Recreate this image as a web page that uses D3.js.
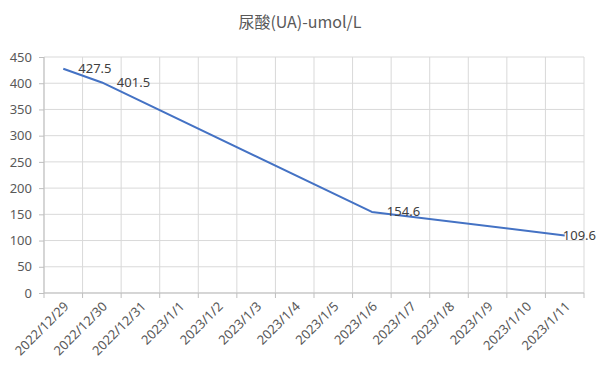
<html>
<head>
<script src="https://d3js.org/d3.v7.min.js"></script>
<style>
    body { margin: 0; background: #fff; font-family: 'Noto Sans', 'Noto Sans CJK SC', sans-serif; }
</style>
</head>
<body>
<svg id="chart" width="597" height="366"></svg>
<script>
var categories = ["2022/12/29", "2022/12/30", "2022/12/31", "2023/1/1", "2023/1/2", "2023/1/3", "2023/1/4",
    "2023/1/5", "2023/1/6", "2023/1/7", "2023/1/8", "2023/1/9", "2023/1/10", "2023/1/11"];
var sampleDates = ["2022/12/29", "2022/12/30", "2023/1/6", "2023/1/11"];
var uaValues = [427.5, 401.5, 154.6, 109.6];
var yTicks = [0, 50, 100, 150, 200, 250, 300, 350, 400, 450];
var title = "尿酸(UA)-umol/L";

var svg = d3.select("#chart");
var W = +svg.attr("width");
var plotLeft = 44, plotRight = 584, plotTop = 57, plotBottom = 293;

var x = d3.scaleBand().domain(categories).range([plotLeft, plotRight]);
var y = d3.scaleLinear().domain([0, 450]).range([plotBottom, plotTop]);

svg.append("text")
    .attr("x", 300).attr("y", 28)
    .attr("text-anchor", "middle")
    .attr("fill", "#595959")
    .style("font-family", "'Noto Sans CJK SC', sans-serif")
    .style("font-size", "16px")
    .text(title);

// horizontal grid
svg.append("g").selectAll("line").data(yTicks).enter().append("line")
    .attr("x1", plotLeft).attr("x2", plotRight)
    .attr("y1", function (d) { return y(d); }).attr("y2", function (d) { return y(d); })
    .attr("stroke", "#d9d9d9").attr("stroke-width", 1);

// vertical grid at category boundaries
var bounds = categories.map(function (c) { return x(c); }).concat([plotRight]);
svg.append("g").selectAll("line").data(bounds).enter().append("line")
    .attr("x1", function (d) { return d; }).attr("x2", function (d) { return d; })
    .attr("y1", plotTop).attr("y2", plotBottom)
    .attr("stroke", "#d9d9d9").attr("stroke-width", 1);

// y axis
var yAxis = d3.axisLeft(y).tickValues(yTicks).tickSize(5).tickPadding(7);
var gy = svg.append("g").attr("transform", "translate(" + plotLeft + ",0)").call(yAxis);
gy.select(".domain").attr("stroke", "#bfbfbf").attr("d", "M0," + plotTop + "V" + plotBottom);
gy.selectAll(".tick line").attr("stroke", "#bfbfbf");
gy.selectAll("text").attr("fill", "#595959")
    .style("font-size", "13px").style("font-family", "'Noto Sans', sans-serif");

// x axis
svg.append("line").attr("x1", plotLeft).attr("x2", plotRight).attr("y1", plotBottom).attr("y2", plotBottom)
    .attr("stroke", "#bfbfbf");
svg.append("g").selectAll("line").data(bounds).enter().append("line")
    .attr("x1", function (d) { return d; }).attr("x2", function (d) { return d; })
    .attr("y1", plotBottom).attr("y2", plotBottom + 5)
    .attr("stroke", "#bfbfbf");
svg.append("g").selectAll("text").data(categories).enter().append("text")
    .attr("transform", function (d) {
        return "translate(" + (x(d) + x.bandwidth() / 2 + 3) + "," + (plotBottom + 11) + ") rotate(-45)";
    })
    .attr("text-anchor", "end")
    .attr("dy", "0.35em")
    .attr("fill", "#595959")
    .style("font-size", "13px")
    .style("font-family", "'Noto Sans', sans-serif")
    .text(function (d) { return d; });

// line
var pts = sampleDates.map(function (d, i) { return { date: d, v: uaValues[i] }; });
var line = d3.line()
    .x(function (d) { return x(d.date) + x.bandwidth() / 2; })
    .y(function (d) { return y(d.v); });
svg.append("path").datum(pts)
    .attr("d", line)
    .attr("fill", "none")
    .attr("stroke", "#4472c4")
    .attr("stroke-width", 2)
    .attr("stroke-linejoin", "round");

// data labels
svg.append("g").selectAll("text").data(pts).enter().append("text")
    .attr("y", function (d) { return y(d.v); })
    .attr("dy", "0.35em")
    .attr("fill", "#404040")
    .style("font-size", "13px")
    .style("font-family", "'Noto Sans', sans-serif")
    .text(function (d) { return d.v.toFixed(1); })
    .attr("x", function (d) {
        var px = x(d.date) + x.bandwidth() / 2 + 15;
        var w = this.getComputedTextLength();
        return Math.min(px, W - w - 1);
    });
</script>
</body>
</html>
